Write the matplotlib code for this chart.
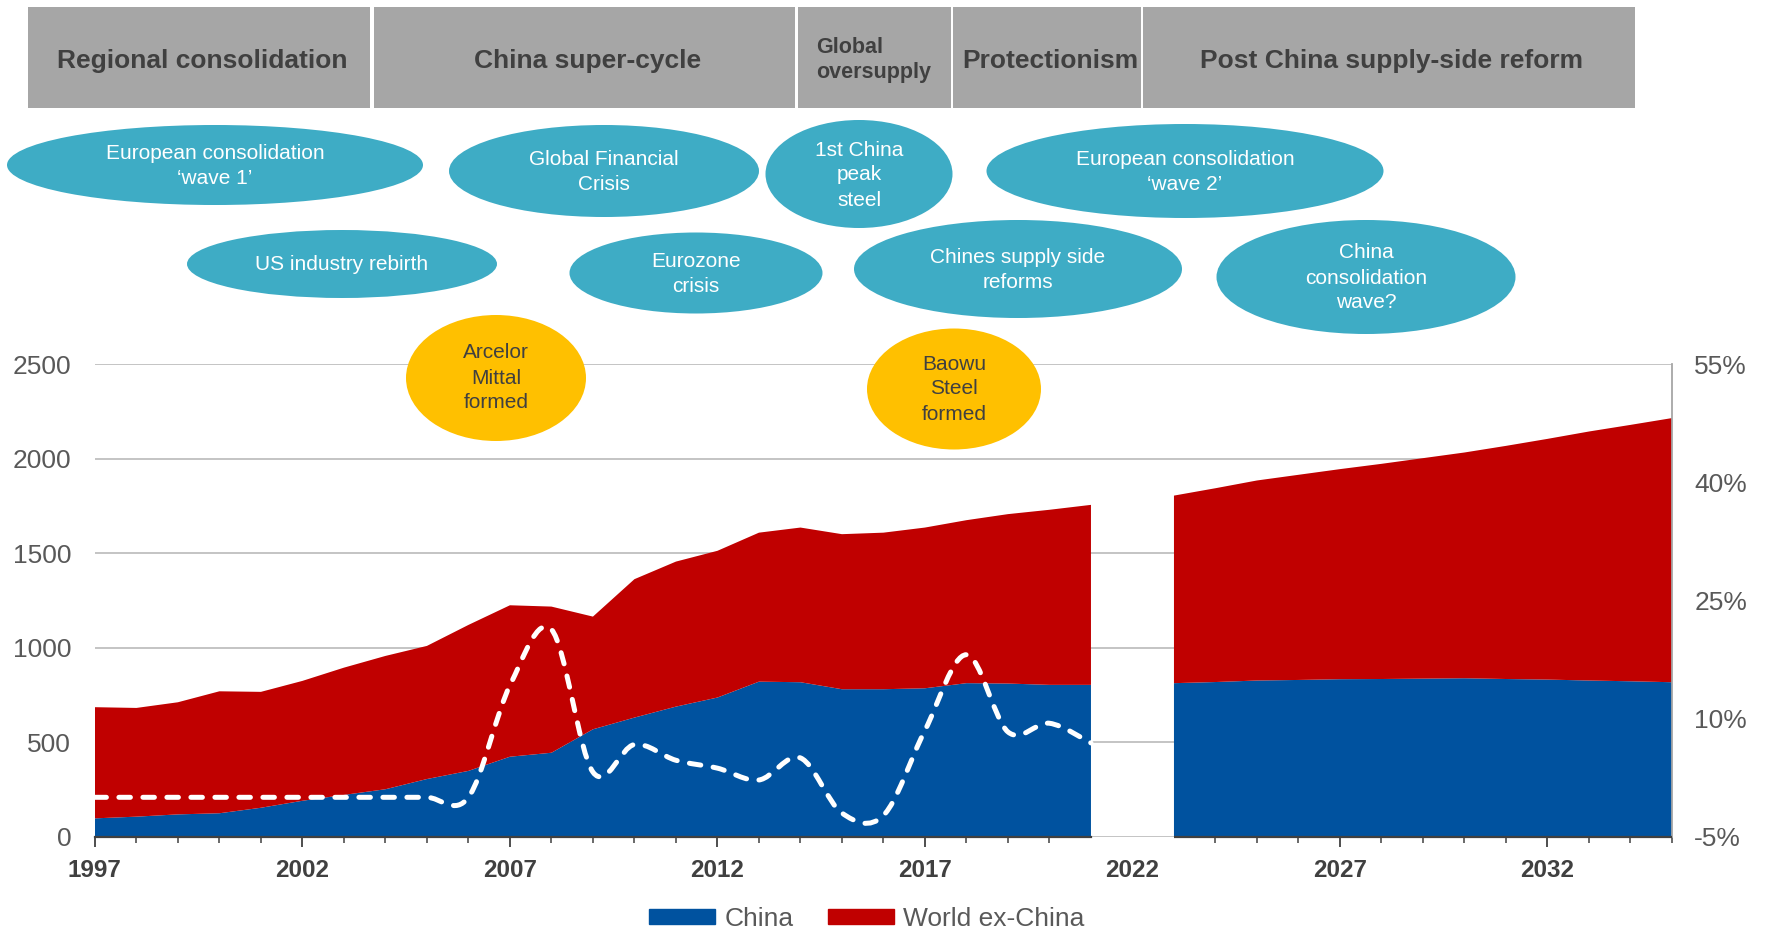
import numpy as np
import matplotlib.pyplot as plt
from matplotlib.patches import Ellipse, Rectangle, Patch, PathPatch
from matplotlib.path import Path
from matplotlib.transforms import Affine2D

plt.rcParams['font.family'] = 'Liberation Sans'

# crude steel output (Mt), history
years_hist = list(range(1997, 2022))
china_hist = [97, 106, 118, 124, 153, 190, 221, 251, 305, 348, 423, 444, 568,
              630, 688, 736, 820, 817, 780, 780, 785, 812, 810, 803, 803]
world_ex_china_hist = [588, 575, 593, 645, 613, 634, 673, 705, 704, 772, 801, 773, 596,
                       732, 767, 776, 788, 818, 820, 828, 850, 862, 896, 926, 952]
# y/y growth (%), right axis
growth_hist = [0, 0, 0, 0, 0, 0, 0, 0, 0, 0, 14.2, 21.3, 3.2,
               6.7, 4.7, 3.7, 2.2, 5.0, -2.0, -2.3, 8.5, 18.1, 8.3, 9.4, 6.9]

# outlook
years_fcst = list(range(2023, 2036))
china_fcst = [812, 818, 826, 829, 833, 834, 836, 838, 834, 831, 826, 822, 817]
world_ex_china_fcst = [992, 1025, 1058, 1085, 1111, 1138, 1166, 1194, 1233, 1273, 1317, 1356, 1397]

year_labels = [1997, 2002, 2007, 2012, 2017, 2022, 2027, 2032]
left_ticks = [0, 500, 1000, 1500, 2000, 2500]
right_ticks = [-5, 10, 25, 40, 55]

phases = ['Regional consolidation', 'China super-cycle', 'Global\noversupply',
          'Protectionism', 'Post China supply-side reform']
events = ['European consolidation\n\u2018wave 1\u2019', 'US industry rebirth',
          'Global Financial\nCrisis', 'Eurozone\ncrisis', '1st China\npeak\nsteel',
          'European consolidation\n\u2018wave 2\u2019', 'Chines supply side\nreforms',
          'China\nconsolidation\nwave?']
milestones = ['Arcelor\nMittal\nformed', 'Baowu\nSteel\nformed']

# layout in pixels from the top-left corner
phase_boxes = [(28, 370), (374, 795), (798, 951), (953, 1141), (1143, 1635)]
event_shapes = [(215, 165, 416, 80), (342, 264, 310, 68), (604, 171, 310, 92),
                (696, 273, 253, 81), (859, 174, 187, 108), (1185, 171, 397, 94),
                (1018, 269, 328, 98), (1366, 277, 299, 114)]
milestone_shapes = [(496, 378, 180, 126), (954, 389, 174, 121)]

W, H = 1768, 931
BLUE = '#00529F'
RED = '#C00000'
TEAL = '#3EACC5'
GOLD = '#FFC000'
DARK = '#404040'
GREY = '#595959'


def smooth_path(x, y):
    # Bezier path through the points, same style as a spreadsheet "smoothed line"
    pts = np.column_stack([x, y]).astype(float)
    n = len(pts)
    verts = [pts[0]]
    codes = [Path.MOVETO]
    for i in range(n - 1):
        p0 = pts[max(i - 1, 0)]
        p1, p2 = pts[i], pts[i + 1]
        p3 = pts[min(i + 2, n - 1)]
        verts += [p1 + (p2 - p0) / 6, p2 - (p3 - p1) / 6, p2]
        codes += [Path.CURVE4] * 3
    return Path(verts, codes)


fig = plt.figure(figsize=(W / 100, H / 100), dpi=100)
px = Affine2D().scale(1 / W, -1 / H).translate(0, 1) + fig.transFigure

ax = fig.add_axes([94.9 / W, 1 - 836.7 / H, (1672 - 94.9) / W, (836.7 - 364) / H])
ax.stackplot(years_hist, china_hist, world_ex_china_hist, colors=[BLUE, RED], lw=0)
ax.stackplot(years_fcst, china_fcst, world_ex_china_fcst, colors=[BLUE, RED], lw=0)

ax.set_xlim(1997, 2035)
ax.set_ylim(0, 2500)
ax.set_yticks(left_ticks)
ax.yaxis.grid(True, color='#BFBFBF', lw=1.3)
ax.set_axisbelow(True)
ax.tick_params(axis='y', length=0, pad=17, labelsize=19, labelcolor=GREY)

ax.set_xticks(year_labels)
ax.set_xticklabels([str(y) for y in year_labels], fontweight='bold')
ax.set_xticks([y for y in range(1998, 2036)
               if y not in year_labels and y not in (2021, 2023)], minor=True)
ax.tick_params(axis='x', which='major', length=7.5, width=1.3, color=DARK,
               pad=8.5, labelsize=17.5, labelcolor=DARK)
ax.tick_params(axis='x', which='minor', length=4, width=1.1, color=DARK)
for t in ax.xaxis.get_major_ticks():
    if t.get_loc() == 2022:
        t.tick1line.set_visible(False)

for s in ['left', 'top']:
    ax.spines[s].set_visible(False)
ax.spines['right'].set_color('#A6A6A6')
ax.spines['right'].set_linewidth(1.3)
ax.spines['bottom'].set_color(DARK)
ax.spines['bottom'].set_linewidth(1.6)
ax.spines['bottom'].set_bounds(1997, 2021)
ax.hlines(0, 2023, 2035, color=DARK, lw=1.6, clip_on=False, zorder=3)

ax2 = ax.twinx()
ax2.set_ylim(-5, 55)
ax2.set_yticks(right_ticks)
ax2.set_yticklabels([f'{v}%' for v in right_ticks])
ax2.tick_params(axis='y', length=0, pad=16, labelsize=19, labelcolor=GREY)
for s in ax2.spines.values():
    s.set_visible(False)
ax2.add_patch(PathPatch(smooth_path(years_hist, growth_hist), fill=False,
                        edgecolor='white', lw=3.6, linestyle=(0, (2.3, 2.5)),
                        capstyle='round', joinstyle='round'))

# phase header
for (x0, x1), label in zip(phase_boxes, phases):
    fig.add_artist(Rectangle((x0, 7), x1 - x0, 101, transform=px,
                             facecolor='#A6A6A6', edgecolor='none'))
    if '\n' in label:
        fig.text(x0 + 18, 60, label, transform=px, ha='left', va='center',
                 fontsize=15.5, fontweight='bold', color=DARK, linespacing=1.3)
    else:
        fig.text((x0 + x1) / 2 + 3, 61, label, transform=px, ha='center', va='center',
                 fontsize=19, fontweight='bold', color=DARK)

# event bubbles
for (cx, cy, w, h), label in zip(event_shapes, events):
    fig.add_artist(Ellipse((cx, cy), w, h, transform=px, facecolor=TEAL,
                           edgecolor='none', zorder=5))
    fig.text(cx, cy + 1, label, transform=px, ha='center', va='center', fontsize=15,
             color='white', linespacing=1.4, zorder=6)

for (cx, cy, w, h), label in zip(milestone_shapes, milestones):
    fig.add_artist(Ellipse((cx, cy), w, h, transform=px, facecolor=GOLD,
                           edgecolor='none', zorder=5))
    fig.text(cx, cy, label, transform=px, ha='center', va='center', fontsize=15,
             color=DARK, linespacing=1.4, zorder=6)

fig.legend(handles=[Patch(color=BLUE, label='China'),
                    Patch(color=RED, label='World ex-China')],
           loc='center', bbox_to_anchor=(867 / W, 1 - 919 / H), ncol=2,
           frameon=False, fontsize=19, handlelength=2.5, handleheight=0.5,
           handletextpad=0.35, columnspacing=1.3, labelcolor=GREY,
           borderpad=0, borderaxespad=0)

fig.savefig('out.png', dpi=100)
